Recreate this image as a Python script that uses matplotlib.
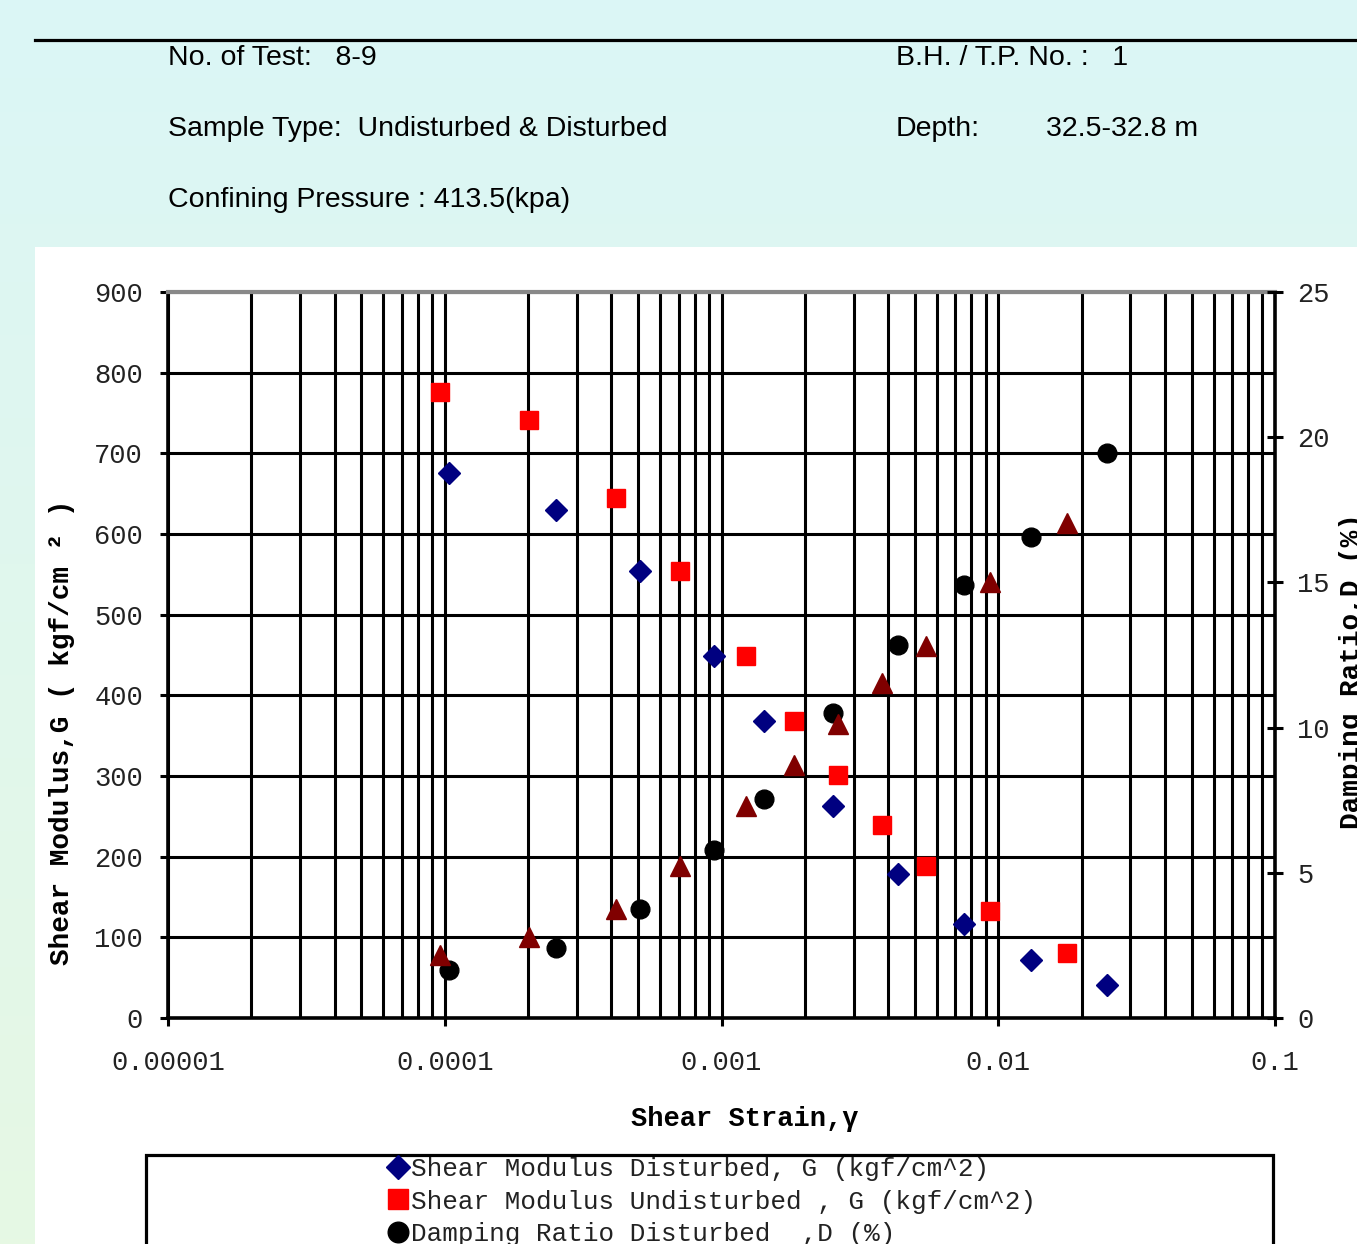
import numpy as np
import matplotlib.pyplot as plt
from matplotlib.patches import Rectangle
from matplotlib.lines import Line2D
from matplotlib.ticker import LogLocator, FixedLocator, NullFormatter

# 試験データ (せん断ひずみ, せん断弾性係数 G, 減衰比 D)
strain_dist = [1.035e-4, 2.52e-4, 5.07e-4, 9.4e-4, 1.424e-3, 2.53e-3,
               4.35e-3, 7.52e-3, 1.312e-2, 2.47e-2]
G_dist = [676, 630, 554, 449, 368, 263, 178, 116, 72, 41]
D_dist = [1.65, 2.41, 3.75, 5.79, 7.54, 10.5, 12.84, 14.91, 16.56, 19.46]

strain_undist = [9.62e-5, 2.015e-4, 4.16e-4, 7.08e-4, 1.226e-3, 1.828e-3,
                 2.636e-3, 3.8e-3, 5.48e-3, 9.33e-3, 1.77e-2]
G_undist = [776, 741, 645, 554, 449, 368, 301, 239, 188, 133, 81]
D_undist = [2.17, 2.79, 3.75, 5.23, 7.30, 8.71, 10.12, 11.54, 12.81, 15.01, 17.05]

x_ticks = [1e-5, 1e-4, 1e-3, 1e-2, 1e-1]
x_tick_labels = ["0.00001", "0.0001", "0.001", "0.01", "0.1"]
G_ticks = list(range(0, 901, 100))
D_ticks = list(range(0, 26, 5))

W, H = 1357, 1244
def fx(x):
    return x / W
def fy(y):
    return 1 - y / H

mono = ['Liberation Mono', 'DejaVu Sans Mono']
sans = ['Liberation Sans', 'DejaVu Sans']

fig = plt.figure(figsize=(W / 100, H / 100), dpi=100)

# 背景のグラデーション
bg = fig.add_axes([0, 0, 1, 1], zorder=-10)
t = np.linspace(0, 1, 256)[:, None, None]
top = np.array([0.859, 0.965, 0.965])
bot = np.array([0.902, 0.973, 0.894])
grad = top * (1 - t) + bot * t
bg.imshow(np.repeat(grad, 2, axis=1), aspect='auto', extent=[0, 1, 0, 1])
bg.axis('off')

# グラフ部分の白い領域
fig.add_artist(Rectangle((fx(35), 0), 1 - fx(35), fy(247), transform=fig.transFigure,
                         facecolor='white', edgecolor='none', zorder=-5))
fig.add_artist(Line2D([fx(35), 1], [fy(40), fy(40)], transform=fig.transFigure,
                      color='black', lw=2.3))

# ヘッダ
hs = 20.5
fig.text(fx(168), fy(58), "No. of Test:   8-9", family=sans, fontsize=hs, va='center')
fig.text(fx(896), fy(58), "B.H. / T.P. No. :   1", family=sans, fontsize=hs, va='center')
fig.text(fx(168), fy(129), "Sample Type:  Undisturbed & Disturbed", family=sans, fontsize=hs, va='center')
fig.text(fx(896), fy(129), "Depth:", family=sans, fontsize=hs, va='center')
fig.text(fx(1046), fy(129), "32.5-32.8 m", family=sans, fontsize=hs, va='center')
fig.text(fx(168), fy(200), "Confining Pressure : 413.5(kpa)", family=sans, fontsize=hs, va='center')

ax = fig.add_axes([fx(168), fy(1018), fx(1275) - fx(168), fy(292) - fy(1018)])
ax.set_facecolor('white')
ax.set_xscale('log')
ax.set_xlim(1e-5, 1e-1)
ax.set_ylim(0, 900)
ax.xaxis.set_major_locator(FixedLocator(x_ticks))
ax.set_xticklabels(x_tick_labels)
ax.xaxis.set_minor_locator(LogLocator(base=10, subs=np.arange(2, 10)))
ax.xaxis.set_minor_formatter(NullFormatter())
ax.set_yticks(G_ticks)
ax.set_axisbelow(True)
ax.grid(True, which='both', axis='x', color='black', lw=2.2)
ax.grid(True, which='major', axis='y', color='black', lw=2.2)
ax.tick_params(axis='x', which='major', direction='out', length=6, width=2.2, pad=17)
ax.tick_params(axis='x', which='minor', length=0)
ax.tick_params(axis='y', direction='out', length=6, width=2.2, pad=12)
for lab in ax.get_xticklabels() + ax.get_yticklabels():
    lab.set_family(mono)
    lab.set_fontsize(19.5)
    lab.set_color('#222222')
for s in ['left', 'bottom', 'right']:
    ax.spines[s].set_linewidth(2.6)
ax.spines['top'].set_color('#888888')
ax.spines['top'].set_linewidth(3)

ax.plot(strain_dist, G_dist, ls='none', marker='D', ms=10.8, color='#000080',
        label='Shear Modulus Disturbed, G (kgf/cm^2)', zorder=5)
ax.plot(strain_undist, G_undist, ls='none', marker='s', ms=13, color='#ff0000',
        label='Shear Modulus Undisturbed , G (kgf/cm^2)', zorder=5)

ax2 = ax.twinx()
ax2.set_ylim(0, 25)
ax2.set_yticks(D_ticks)
ax2.tick_params(axis='y', direction='inout', length=12, width=2.2, pad=10)
for lab in ax2.get_yticklabels():
    lab.set_family(mono)
    lab.set_fontsize(19.5)
    lab.set_color('#222222')
for s in ax2.spines.values():
    s.set_visible(False)
ax2.plot(strain_dist, D_dist, ls='none', marker='o', ms=13.5, color='black',
         label='Damping Ratio Disturbed  ,D (%)', zorder=5)
ax2.plot(strain_undist, D_undist, ls='none', marker='^', ms=14, color='#800000',
         label='Damping Ratio Undisturbed ,D (%)', zorder=5)

# 軸ラベル
fig.text(fx(745), fy(1119), "Shear Strain,\u03b3", family=mono, fontsize=19.5,
         weight='bold', ha='center', va='center')
fig.text(fx(62), fy(732), "Shear Modulus,G ( kgf/cm \u00b2 )", family=mono, fontsize=20,
         weight='bold', ha='center', va='center', rotation=90)
fig.text(fx(1352), fy(671), "Damping Ratio,D (%)", family=mono, fontsize=20,
         weight='bold', ha='center', va='center', rotation=90)

# 凡例
fig.add_artist(Rectangle((fx(146), fy(1270)), fx(1273) - fx(146), fy(1155) - fy(1270),
                         transform=fig.transFigure, facecolor='white',
                         edgecolor='black', lw=2.3))
h1, l1 = ax.get_legend_handles_labels()
h2, l2 = ax2.get_legend_handles_labels()
leg = fig.legend(h1 + h2[:1], l1 + l2[:1], loc='upper left',
                 bbox_to_anchor=(fx(389), fy(1157)), frameon=False,
                 prop={'family': mono, 'size': 18.7}, handlelength=0.7,
                 handletextpad=0.15, labelspacing=0.33, borderpad=0, borderaxespad=0,
                 markerscale=1.1)
for txt in leg.get_texts():
    txt.set_color('#222222')

fig.savefig('out.png', dpi=100)
